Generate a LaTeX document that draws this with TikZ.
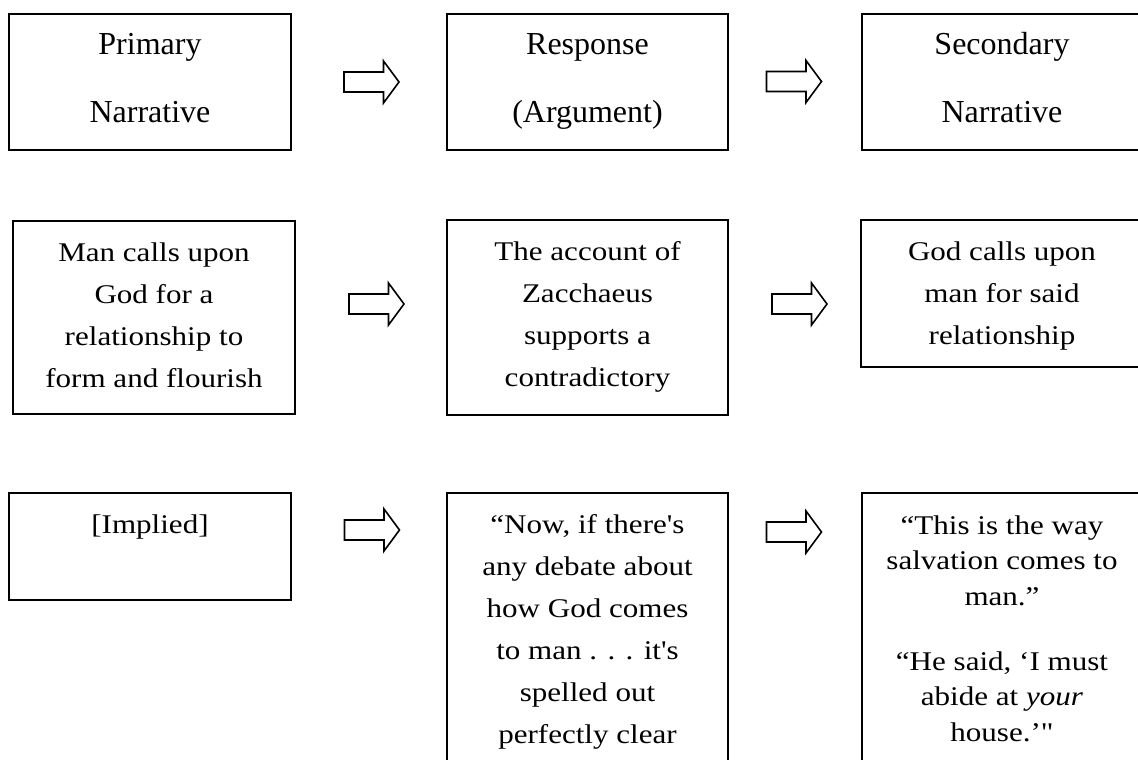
\documentclass[tikz,border=0pt]{standalone}
\usepackage{fontspec}
\newfontfamily\headfont{Liberation Serif}
\newfontfamily\bodyfont[FakeStretch=1.15]{Liberation Serif}
\begin{document}
\begin{tikzpicture}[x=1pt,y=-1pt,
  box/.style={draw,line width=1.8pt,line join=miter},
  % anchor=base sits on the baseline of the last line
  headtext/.style={anchor=base,align=center,inner sep=0pt,
    font=\headfont\fontsize{32}{68}\selectfont},
  bodytext/.style={anchor=base,align=center,inner sep=0pt,
    font=\bodyfont\fontsize{27}{42}\selectfont},
  quotetext/.style={anchor=base,align=center,inner sep=0pt,
    font=\bodyfont\fontsize{27}{35.5}\selectfont},
  pics/blockarrow/.style={code={
    \draw[line width=1.6pt,line join=miter,fill=white]
      (-27.5,-10) -- (12,-10) -- (12,-21) -- (27.5,0) -- (12,21)
      -- (12,10) -- (-27.5,10) -- cycle;}}
]
\clip (0,0) rectangle (1138,760);
\fill[white] (0,0) rectangle (1138,760);

% boxes
\draw[box] (9,14) rectangle (291,150);
\draw[box] (447,14) rectangle (728,150);
\draw[box] (862,14) rectangle (1143,150);
\draw[box] (13,221) rectangle (295,414);
\draw[box] (447,220) rectangle (728,415);
\draw[box] (861,220) rectangle (1142,367);
\draw[box] (9,493) rectangle (291,600);
\draw[box] (447,493) rectangle (728,800);
\draw[box] (862,493) rectangle (1143,800);

% row 1: headings
\node[headtext] (primary) at (150,122) {Primary\\Narrative};
\node[headtext] (response) at (587.5,122) {Response\\(Argument)};
\node[headtext] (secondary) at (1002,122) {Secondary\\Narrative};

% row 2
\node[bodytext] (mancalls) at (154,387)
  {Man calls upon\\God for a\\relationship to\\form and flourish};
\node[bodytext] (account) at (587.5,386)
  {The account of\\Zacchaeus\\supports a\\contradictory};
\node[bodytext] (godcalls) at (1002,344)
  {God calls upon\\man for said\\relationship};

% row 3
\node[bodytext] (implied) at (150,533) {[Implied]};
\node[bodytext] (debate) at (587.5,743)
  {“Now, if there's\\any debate about\\how God comes\\to man . . . it's\\spelled out\\perfectly clear};
\node[quotetext] (salvation) at (1002,741)
  {“This is the way\\salvation comes to\\man.”\\[29.5pt]“He said, ‘I must\\abide at \textit{your}\\house.’"};

% block arrows between the columns
\pic (ar11) at (371.5,82) {blockarrow};
\pic (ar12) at (794,81.5) {blockarrow};
\pic (ar21) at (376.5,304) {blockarrow};
\pic (ar22) at (799.5,304) {blockarrow};
\pic (ar31) at (372,530) {blockarrow};
\pic (ar32) at (794,532) {blockarrow};
\end{tikzpicture}
\end{document}
